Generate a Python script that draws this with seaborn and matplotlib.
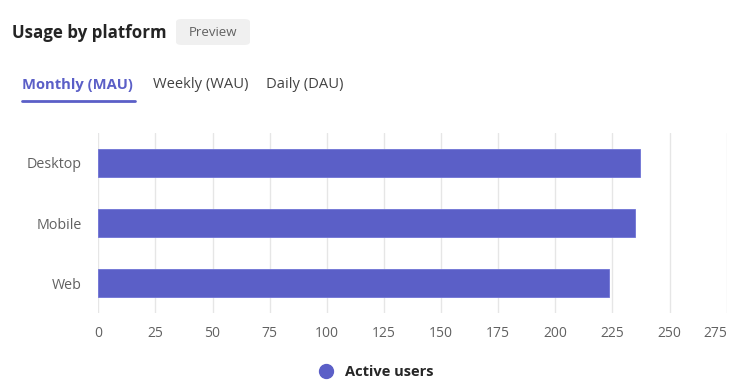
"""Usage by platform: horizontal bar chart of monthly active users."""

import matplotlib.pyplot as plt
import pandas as pd
import seaborn as sns
from matplotlib.lines import Line2D
from matplotlib.patches import FancyBboxPatch

platforms = ["Desktop", "Mobile", "Web"]
active_users = [237, 235, 223.5]
x_ticks = [0, 25, 50, 75, 100, 125, 150, 175, 200, 225, 250, 275]
tabs = ["Monthly (MAU)", "Weekly (WAU)", "Daily (DAU)"]

PURPLE = "#5B5FC7"
GRAY_TEXT = "#616161"

sns.set_theme(style="white")
plt.rcParams["font.family"] = ["Open Sans", "DejaVu Sans"]

df = pd.DataFrame({"platform": platforms, "users": active_users})

fig = plt.figure(figsize=(7.5, 3.91), dpi=100)
ax = fig.add_axes([0.131, 0.199, 0.838, 0.461])

sns.barplot(data=df, x="users", y="platform", orient="h", color=PURPLE,
            saturation=1, width=0.46, ax=ax, edgecolor="#6f73d6", linewidth=0.6)

ax.set_xlim(0, 275)
ax.set_ylim(2.5, -0.5)
ax.set_xticks(x_ticks)
ax.set_xticklabels([str(t) for t in x_ticks])
ax.grid(axis="x", color="#e6e6e6", linewidth=1)
ax.set_axisbelow(True)
ax.axvline(0, color="#ccd0ee", linewidth=1.2, zorder=0)
for s in ax.spines.values():
    s.set_visible(False)
ax.set_xlabel("")
ax.set_ylabel("")
ax.tick_params(axis="y", length=0, pad=12, labelsize=10.3, labelcolor=GRAY_TEXT)
ax.tick_params(axis="x", length=0, pad=9, labelsize=10, labelcolor=GRAY_TEXT)
# last label sits a bit left, like the reference
ax.get_xticklabels()[-1].set_horizontalalignment("right")
ax.get_xticklabels()[-1].set_position((282, 0))

# header
fig.text(12 / 750, 1 - 33 / 391, "Usage by platform", fontsize=12.2,
         fontweight="bold", color="#242424", va="center", ha="left")
box = FancyBboxPatch((176 / 750, 1 - 45 / 391), 74 / 750, 26 / 391,
                     boxstyle="round,pad=0,rounding_size=0.008",
                     transform=fig.transFigure, facecolor="#f0f0f0",
                     edgecolor="none")
fig.patches.append(box)
fig.text(213 / 750, 1 - 33 / 391, "Preview", fontsize=9.5, color=GRAY_TEXT,
         va="center", ha="center")

# tabs
tab_x = [22, 153, 266]
for i, (label, tx) in enumerate(zip(tabs, tab_x)):
    fig.text(tx / 750, 1 - 85 / 391, label, fontsize=10.6,
             fontweight="bold" if i == 0 else "normal",
             color=PURPLE if i == 0 else "#424242", va="center", ha="left")
fig.add_artist(Line2D([22 / 750, 135 / 750], [1 - 101 / 391, 1 - 101 / 391],
                      color=PURPLE, linewidth=2, solid_capstyle="round"))

# legend
handle = Line2D([], [], marker="o", linestyle="none", markersize=10,
                markerfacecolor=PURPLE, markeredgecolor=PURPLE)
leg = fig.legend([handle], ["Active users"], loc="center",
                 bbox_to_anchor=(372 / 750, 1 - 372 / 391), frameon=False,
                 handletextpad=0.3, prop={"size": 10.5, "weight": "bold"})

fig.savefig("out.png", dpi=100)
plt.close(fig)
